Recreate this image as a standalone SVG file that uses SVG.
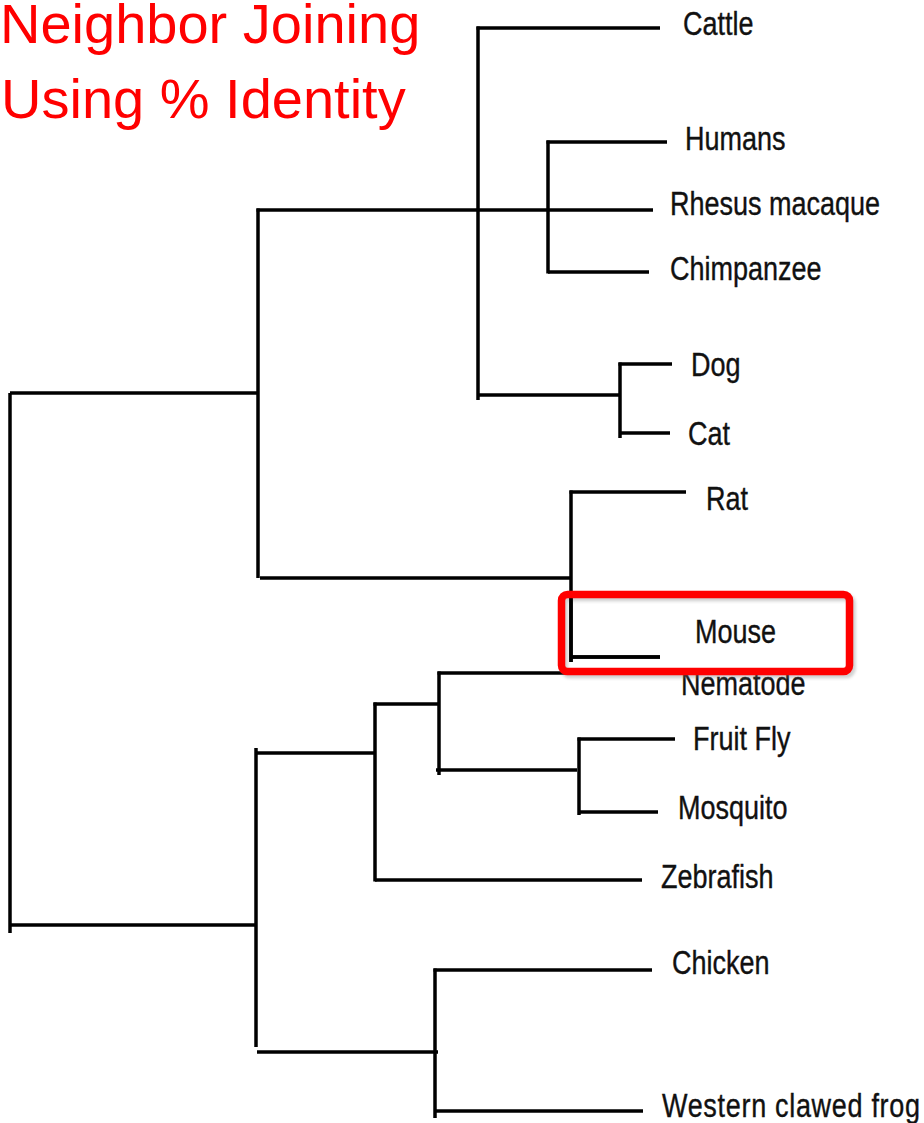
<svg xmlns="http://www.w3.org/2000/svg" width="924" height="1123" viewBox="0 0 924 1123">
  <style>
    .branch { stroke: #000; stroke-width: 3.5; fill: none; stroke-linecap: butt; }
    .label { font-family: "Liberation Sans", Arial, sans-serif; font-size: 27px; fill: #111; stroke: #111; stroke-width: 0.3; }
    .title { font-family: "Liberation Sans", Arial, sans-serif; font-size: 56px; fill: #ff0000; }
    .highlight { fill: none; stroke: #ff0000; stroke-width: 7.5; }
    .highlight-shadow { fill: none; stroke: #7a7a7a; stroke-width: 7.5; opacity: 0.35; }
  </style>
  <defs>
    <filter id="soft" x="-5%" y="-20%" width="110%" height="140%">
      <feGaussianBlur stdDeviation="1.5"/>
    </filter>
  </defs>

  <rect x="0" y="0" width="924" height="1123" fill="#ffffff"/>

  <!-- heading -->
  <g id="title">
    <text class="title" x="0" y="43">Neighbor Joining</text>
    <text class="title" x="1" y="118">Using % Identity</text>
  </g>

  <!-- tree branches -->
  <g id="connectors" class="branch">
    <!-- root -->
    <path d="M10 393 V933"/>
    <path d="M10 393 H258"/>
    <path d="M10 925 H256"/>

    <!-- upper clade -->
    <path d="M258 208.5 V578"/>
    <path d="M256.5 210 H653"/>
    <path d="M478 26.5 V400"/>
    <path d="M476.5 28 H660"/>
    <path d="M478 395 H620"/>
    <path d="M620 362.5 V438"/>
    <path d="M618.5 364 H672"/>
    <path d="M620 433 H670"/>
    <path d="M548 140.5 V273.5"/>
    <path d="M546.5 142 H667"/>
    <path d="M548 272 H649"/>
    <path d="M260 578 H571"/>
    <path d="M571 490.5 V662"/>
    <path d="M569.5 492 H686"/>
    <path d="M571 657 H660"/>

    <!-- lower clade -->
    <path d="M256 748 V1047"/>
    <path d="M256 753 H375"/>
    <path d="M375 702.5 V881.5"/>
    <path d="M373.5 704 H439"/>
    <path d="M439 671.5 V775"/>
    <path d="M437.5 673 H620"/>
    <path d="M436 770 H577"/>
    <path d="M579 737.5 V815"/>
    <path d="M577.5 739 H675"/>
    <path d="M579 812 H658"/>
    <path d="M375 880 H642"/>
    <path d="M257 1052 H438"/>
    <path d="M435 968.5 V1118"/>
    <path d="M433.5 970 H652"/>
    <path d="M435 1111 H643"/>
  </g>

  <!-- leaf labels (type is set tall and narrow) -->
  <g id="cattle"><text class="label" transform="translate(683 35) scale(1 1.25)">Cattle</text></g>
  <g id="humans"><text class="label" transform="translate(685 150) scale(1 1.25)">Humans</text></g>
  <g id="rhesus-macaque"><text class="label" transform="translate(670 215) scale(1 1.25)">Rhesus macaque</text></g>
  <g id="chimpanzee"><text class="label" transform="translate(670 280) scale(1 1.25)">Chimpanzee</text></g>
  <g id="dog"><text class="label" transform="translate(691 376) scale(1 1.25)">Dog</text></g>
  <g id="cat"><text class="label" transform="translate(688 445) scale(1 1.25)">Cat</text></g>
  <g id="rat"><text class="label" transform="translate(706 510) scale(1 1.25)">Rat</text></g>
  <g id="nematode"><text class="label" transform="translate(681 695) scale(1 1.25)">Nematode</text></g>

  <!-- highlighted leaf -->
  <g id="mouse">
    <rect class="highlight-shadow" x="564" y="597.5" width="288" height="77" rx="6" filter="url(#soft)"/>
    <path class="branch" d="M571 594 V662 M571 657 H660"/>
    <rect class="highlight" x="561.5" y="594.5" width="288" height="77" rx="6"/>
    <text class="label" transform="translate(695 643) scale(1 1.25)">Mouse</text>
  </g>

  <g id="fruit-fly"><text class="label" transform="translate(693 750) scale(1 1.25)">Fruit Fly</text></g>
  <g id="mosquito"><text class="label" transform="translate(678 819) scale(1 1.25)">Mosquito</text></g>
  <g id="zebrafish"><text class="label" transform="translate(661 888) scale(1 1.25)">Zebrafish</text></g>
  <g id="chicken"><text class="label" transform="translate(672 974) scale(1 1.25)">Chicken</text></g>
  <g id="western-clawed-frog"><text class="label" transform="translate(662 1117) scale(1 1.25)" textLength="258" lengthAdjust="spacing">Western clawed frog</text></g>
</svg>
